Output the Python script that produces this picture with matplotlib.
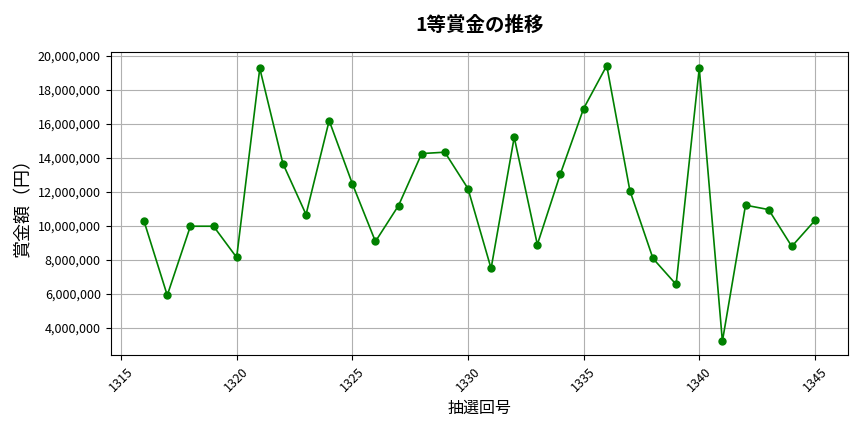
import matplotlib
matplotlib.use("Agg")
import matplotlib.pyplot as plt
from matplotlib.ticker import FuncFormatter

plt.rcParams['font.family'] = ['Noto Sans CJK JP', 'DejaVu Sans']

draws = list(range(1316, 1346))
prizes = [10260000, 5910000, 9980000, 9980000, 8140000, 19280000, 13670000, 10670000,
          16200000, 12490000, 9080000, 11200000, 14260000, 14340000, 12200000, 7490000,
          15220000, 8900000, 13080000, 16910000, 19440000, 12080000, 8080000, 6550000,
          19280000, 3200000, 11220000, 10960000, 8790000, 10320000]

title = "1等賞金の推移"
xlabel = "抽選回号"
ylabel = "賞金額（円）"

fig = plt.figure(figsize=(8.64, 4.32), dpi=100)
ax = fig.add_axes([0.128, 0.178, 0.854, 0.702])
ax.plot(draws, prizes, color='green', marker='o', markersize=5, linewidth=1.2)
ax.set_title(title, fontsize=14, fontweight='bold', pad=15)
ax.set_xlabel(xlabel, fontsize=11.5)
ax.set_ylabel(ylabel, fontsize=13)
ax.grid(True, color='#b0b0b0', linewidth=0.8)
ax.yaxis.set_major_formatter(FuncFormatter(lambda v, p: f"{int(v):,}"))
ax.tick_params(axis='both', labelsize=9)
plt.setp(ax.get_xticklabels(), rotation=45)
fig.savefig("out.png", dpi=100)
